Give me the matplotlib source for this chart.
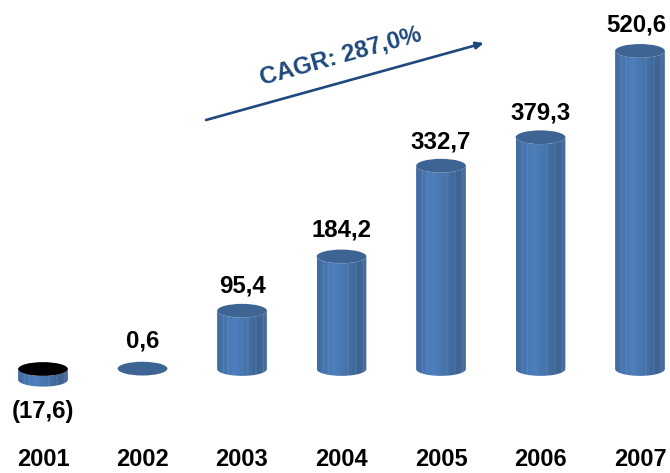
import numpy as np
import matplotlib
matplotlib.use("Agg")
import matplotlib.pyplot as plt
from matplotlib.colors import LinearSegmentedColormap
from matplotlib.patches import Ellipse, PathPatch
from matplotlib.path import Path

years = ["2001", "2002", "2003", "2004", "2005", "2006", "2007"]
values = [-17.6, 0.6, 95.4, 184.2, 332.7, 379.3, 520.6]
labels = ["(17,6)", "0,6", "95,4", "184,2", "332,7", "379,3", "520,6"]
cagr_text = "CAGR: 287,0%"
label_dx = [0, 0, 1, 0, 0, 0, -4]
label_dy = [-32, 28, 25, 26, 24, 24, 26]

W, H = 670, 473
plt.rcParams["font.family"] = ["Liberation Sans", "DejaVu Sans"]
fig = plt.figure(figsize=(W / 100, H / 100), dpi=100)
ax = fig.add_axes([0, 32 / H, 1, 441 / H])
PX = 0.611
ax.set_xlim(-43 / 99.5, (W - 43) / 99.5)
ax.set_ylim(-72 / PX, 369 / PX)
for s in ax.spines.values():
    s.set_visible(False)
ax.tick_params(axis="x", length=0, pad=5)
ax.set_yticks([])
ax.set_xticks(range(len(years)), years, fontsize=17, fontweight="bold", color="black")

cmap = LinearSegmentedColormap.from_list(
    "cyl", [(0, "#41699F"), (0.12, "#4673AD"), (0.35, "#4E80BD"), (0.6, "#4673A8"),
            (0.85, "#3D6393"), (1, "#4A6F9E")])
BW = 0.5
EH = 22.5
grad_x = np.linspace(0, 1, 200)
stripe_pos = [0.13, 0.23, 0.62, 0.78, 0.93]
grad = cmap(grad_x)
for p in stripe_pos:
    i = int(p * 199)
    grad[i] = grad[i] * 0.55 + np.array([0.85, 0.9, 0.97, 1]) * 0.45
grad = grad[np.newaxis, :, :]

def body_path(x, lo, hi):
    n = 40
    t = np.linspace(np.pi, 2 * np.pi, n)
    bx = x + BW / 2 * np.cos(t)
    by = lo + EH / 2 * np.sin(t)
    tx = x + BW / 2 * np.cos(t[::-1])
    ty = hi + EH / 2 * np.sin(t[::-1])
    return Path(np.r_[np.c_[bx, by], np.c_[tx, ty], [[bx[0], by[0]]]])

for i, v in enumerate(values):
    lo, hi = min(v, 0), max(v, 0)
    if v > 1 or v < 0:
        im = ax.imshow(grad, extent=(i - BW / 2, i + BW / 2, lo - EH, hi + EH),
                       aspect="auto", zorder=2, interpolation="bilinear")
        patch = PathPatch(body_path(i, lo, hi), transform=ax.transData, fc="none", ec="none")
        ax.add_patch(patch)
        im.set_clip_path(patch)
    ax.add_patch(Ellipse((i, hi), BW, EH, zorder=3, ec="none",
                         fc="black" if v < 0 else "#3E6494"))
    ax.annotate(labels[i], (i, v), xytext=(label_dx[i] * 0.72, label_dy[i] * 0.72),
                textcoords="offset points", ha="center", va="center", fontsize=17.3,
                fontweight="bold", color="black", zorder=5)

ax.set_xlim(-43 / 99.5, (W - 43) / 99.5)
ax.set_ylim(-72 / PX, 369 / PX)

# CAGR arrow, in axes fractions
ax.annotate("", xy=(484 / W, 1 - 43 / 441), xytext=(206 / W, 1 - 120 / 441),
            xycoords="axes fraction", textcoords="axes fraction",
            arrowprops=dict(arrowstyle="-|>,head_length=0.45,head_width=0.2", color="#1F497D",
                            lw=1.9, shrinkA=0, shrinkB=0))
ax.text(341 / W, 1 - 56 / 441, cagr_text, transform=ax.transAxes, rotation=15.5,
        rotation_mode="anchor", ha="center", va="center", fontsize=17.3,
        fontweight="bold", color="#1F497D", zorder=5)

fig.savefig("out.png", dpi=100)
